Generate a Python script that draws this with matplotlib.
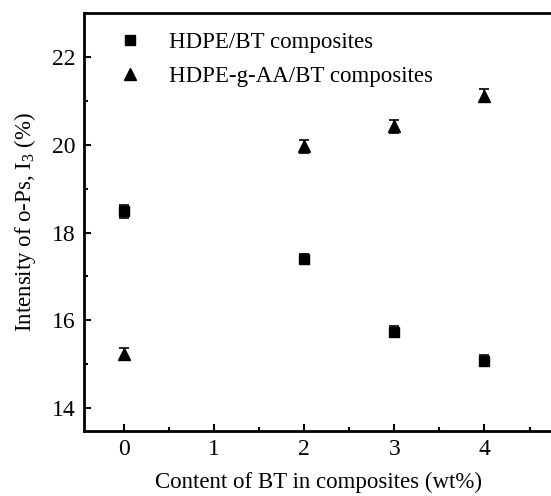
import matplotlib
matplotlib.use("Agg")
import matplotlib.pyplot as plt
from matplotlib.ticker import MultipleLocator

plt.rcParams['font.family'] = ['Liberation Serif', 'DejaVu Serif']
plt.rcParams['mathtext.fontset'] = 'custom'
plt.rcParams['mathtext.rm'] = 'Liberation Serif'

x_vals = [0, 2, 3, 4]
hdpe_bt = [18.48, 17.40, 15.74, 15.08]
hdpe_bt_err = [0.15, 0.12, 0.13, 0.12]
hdpe_aa = [15.23, 19.96, 20.42, 21.12]
hdpe_aa_err = [0.13, 0.14, 0.15, 0.14]
xticks = [0, 1, 2, 3, 4]
yticks = [14, 16, 18, 20, 22]

fig = plt.figure(figsize=(5.51, 4.96), dpi=100)
ax = fig.add_axes([84/551, 1 - 431/496, (553 - 84)/551, (431 - 13)/496])

ax.errorbar(x_vals, hdpe_bt, yerr=hdpe_bt_err, fmt='none', ecolor='black',
            capsize=3.5, elinewidth=1.2, capthick=1.2)
ax.errorbar(x_vals, hdpe_aa, yerr=hdpe_aa_err, fmt='none', ecolor='black',
            capsize=3.5, elinewidth=1.2, capthick=1.2)
ax.plot(x_vals, hdpe_bt, 's', color='black', ms=7, ls='none', label='HDPE/BT composites')
ax.plot(x_vals, hdpe_aa, '^', color='black', ms=8, ls='none', label='HDPE-g-AA/BT composites')

ax.set_xlim(-0.44, 4.76)
ax.set_ylim(13.48, 23.0)
ax.set_xticks(xticks)
ax.set_yticks(yticks)
ax.xaxis.set_minor_locator(MultipleLocator(0.5))
ax.yaxis.set_minor_locator(MultipleLocator(1))
ax.tick_params(which='both', direction='in', top=False, right=False, labelsize=17, width=1.5)
ax.tick_params(which='major', length=5, pad=6)
ax.tick_params(which='minor', length=3)
for s in ax.spines.values():
    s.set_linewidth(2)
ax.spines['right'].set_visible(False)

ax.set_xlabel('Content of BT in composites (wt%)', fontsize=16.5, labelpad=8)
ax.set_ylabel('Intensity of o-Ps, I$_3$ (%)', fontsize=16.5, labelpad=10)

leg = ax.legend(loc='upper left', frameon=False, fontsize=16.5, handletextpad=1.1,
                bbox_to_anchor=(0.025, 1.005), labelspacing=0.6, handlelength=1.2)

fig.savefig('out.png', dpi=100)
